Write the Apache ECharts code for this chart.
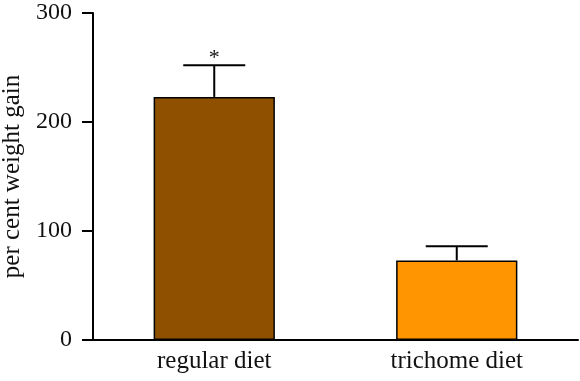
<!DOCTYPE html>
<html lang="en">
<head>
  <meta charset="UTF-8">
  <title>weight gain</title>
</head>
<body style="margin:0; background-color:#ffffff;">
<div id="main" style="width:580px; height:381px;"></div>

<script src="https://cdn.jsdelivr.net/npm/echarts@6/dist/echarts.min.js"></script>

<script>
  var categories = ['regular diet', 'trichome diet'];
  var means = [223, 73];
  var errTops = [252, 86];
  var marks = ['*', ''];
  var barColors = ['#8f5000', '#ff9500'];
  var yTicks = [0, 100, 200, 300];

  var chartDom = document.getElementById('main');
  var myChart = echarts.init(chartDom);

  var serif = '"Liberation Serif", "DejaVu Serif", serif';

  var option = {
    backgroundColor: '#ffffff',
    animation: false,
    grid: { left: 93, right: 2, top: 13, bottom: 41, containLabel: false, outerBoundsMode: 'none' },
    xAxis: {
      type: 'category',
      data: categories,
      axisLine: { lineStyle: { color: '#000', width: 2 } },
      axisTick: { show: false },
      axisLabel: { color: '#111', fontFamily: serif, fontSize: 25, margin: 9 }
    },
    yAxis: {
      type: 'value',
      min: yTicks[0],
      max: yTicks[yTicks.length - 1],
      interval: 100,
      name: 'per cent weight gain',
      nameLocation: 'middle',
      nameGap: 66,
      nameTextStyle: { color: '#111', fontFamily: serif, fontSize: 25 },
      axisLine: { show: true, lineStyle: { color: '#000', width: 2 } },
      axisTick: { show: true, length: 11, lineStyle: { color: '#000', width: 2 } },
      axisLabel: { color: '#111', fontFamily: serif, fontSize: 24, margin: 21 },
      splitLine: { show: false }
    },
    series: [
      {
        type: 'bar',
        barWidth: '50%',
        data: means.map(function (v, i) {
          return {
            value: v,
            itemStyle: { color: barColors[i], borderColor: '#000', borderWidth: 1.5 }
          };
        }),
        z: 2
      },
      {
        type: 'custom',
        z: 3,
        data: errTops.map(function (t, i) { return [i, means[i], t]; }),
        renderItem: function (params, api) {
          var base = api.coord([api.value(0), api.value(1)]);
          var top = api.coord([api.value(0), api.value(2)]);
          var half = 31;
          var children = [
            { type: 'line', shape: { x1: base[0], y1: base[1], x2: top[0], y2: top[1] },
              style: { stroke: '#000', lineWidth: 2 } },
            { type: 'line', shape: { x1: top[0] - half, y1: top[1], x2: top[0] + half, y2: top[1] },
              style: { stroke: '#000', lineWidth: 2 } }
          ];
          var m = marks[params.dataIndex];
          if (m) {
            children.push({
              type: 'text',
              style: {
                text: m, x: top[0], y: top[1] + 4,
                textAlign: 'center', textVerticalAlign: 'bottom',
                fill: '#111', font: '22px ' + serif
              }
            });
          }
          return { type: 'group', children: children };
        }
      }
    ]
  };

  myChart.setOption(option);
</script>
</body>
</html>
